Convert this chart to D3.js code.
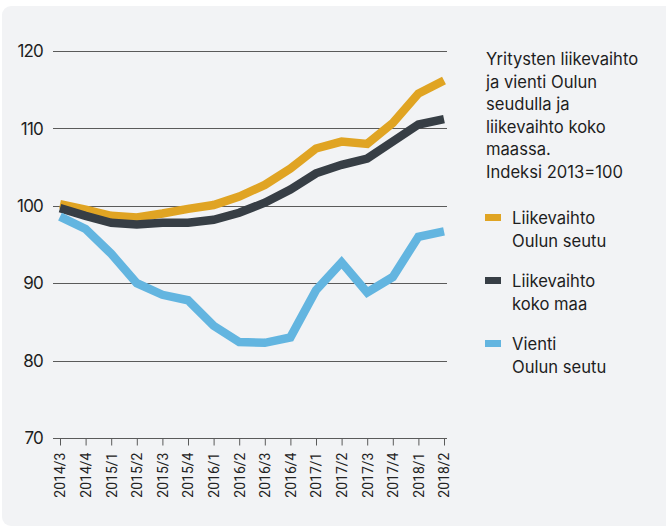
<!DOCTYPE html>
<html>
<head>
<meta charset="utf-8">
<script src="https://cdn.jsdelivr.net/npm/d3@7"></script>
<style>
  html, body { margin: 0; padding: 0; background: #ffffff; }
  svg { display: block; }
</style>
</head>
<body>
<svg id="chart" width="666" height="527"></svg>
<script>
const categories = ["2014/3","2014/4","2015/1","2015/2","2015/3","2015/4","2016/1","2016/2","2016/3","2016/4","2017/1","2017/2","2017/3","2017/4","2018/1","2018/2"];
const liikevaihtoOulu = [100.2, 99.5, 98.7, 98.5, 99.0, 99.6, 100.1, 101.2, 102.7, 104.8, 107.4, 108.3, 108.0, 110.7, 114.5, 116.2];
const liikevaihtoKokoMaa = [99.7, 98.7, 97.8, 97.6, 97.8, 97.8, 98.2, 99.1, 100.4, 102.1, 104.2, 105.3, 106.1, 108.3, 110.5, 111.2];
const vientiOulu = [98.6, 97.0, 93.8, 90.0, 88.5, 87.8, 84.5, 82.4, 82.3, 83.0, 89.1, 92.7, 88.8, 90.8, 96.0, 96.7];
const yTicks = [70, 80, 90, 100, 110, 120];
const titleLines = ["Yritysten liikevaihto", "ja vienti Oulun", "seudulla ja", "liikevaihto koko", "maassa.", "Indeksi 2013=100"];
const series = [
  { name: ["Liikevaihto", "Oulun seutu"], values: liikevaihtoOulu, color: "#e0a423" },
  { name: ["Liikevaihto", "koko maa"], values: liikevaihtoKokoMaa, color: "#373e45" },
  { name: ["Vienti", "Oulun seutu"], values: vientiOulu, color: "#63b5e0" }
];

const svg = d3.select("#chart");
const font = "Inter, Lato, sans-serif";

svg.append("rect")
  .attr("x", 2).attr("y", 6).attr("width", 672).attr("height", 520)
  .attr("rx", 9).attr("fill", "#f2f3f5");

const x = d3.scalePoint().domain(categories).range([60, 444]);
const y = d3.scaleLinear().domain([70, 120]).range([438, 51]);

// gridlines
const grid = svg.append("g");
grid.selectAll("line").data(yTicks).join("line")
  .attr("x1", 53).attr("x2", 447)
  .attr("y1", d => Math.round(y(d)) + 0.5).attr("y2", d => Math.round(y(d)) + 0.5)
  .attr("stroke", "#5a5a5a").attr("stroke-width", 1);

// y labels
svg.append("g").selectAll("text").data(yTicks).join("text")
  .attr("x", 43).attr("y", d => y(d)).attr("dy", "0.36em")
  .attr("text-anchor", "end")
  .attr("font-family", font).attr("font-size", 17).attr("letter-spacing", -0.8).attr("fill", "#1e1e1e")
  .text(d => d);

// x axis
const xAxis = d3.axisBottom(x).tickSize(7).tickSizeOuter(0).tickPadding(6);
const gx = svg.append("g").attr("transform", `translate(0,${Math.round(y(70)) + 0.5})`).call(xAxis);
gx.select(".domain").remove();
gx.selectAll(".tick line").attr("stroke", "#5a5a5a");
gx.selectAll(".tick text")
  .attr("font-family", "Roboto, sans-serif").attr("font-size", 14).attr("fill", "#222")
  .attr("transform", "rotate(-90)")
  .attr("x", -14).attr("y", 0).attr("dy", "0.35em")
  .attr("text-anchor", "end");

// lines
const line = d3.line().x((d, i) => x(categories[i])).y(d => y(d));
svg.append("g").selectAll("path").data(series).join("path")
  .attr("d", d => line(d.values))
  .attr("fill", "none")
  .attr("stroke", d => d.color)
  .attr("stroke-width", 8.5)
  .attr("stroke-linejoin", "miter");

// legend title
svg.append("g").selectAll("text").data(titleLines).join("text")
  .attr("x", 486).attr("y", (d, i) => 65 + i * 22.6)
  .attr("font-family", font).attr("font-size", 16.6).attr("fill", "#1e1e1e")
  .text(d => d);

// legend items
const leg = svg.append("g").selectAll("g").data(series).join("g")
  .attr("transform", (d, i) => `translate(485, ${224 + i * 63})`);
leg.append("rect").attr("x", 0).attr("y", -10).attr("width", 16).attr("height", 7)
  .attr("fill", d => d.color);
leg.selectAll("text").data(d => d.name).join("text")
  .attr("x", 27).attr("y", (d, i) => i * 23)
  .attr("font-family", font).attr("font-size", 16.6).attr("fill", "#1e1e1e")
  .text(d => d);
</script>
</body>
</html>
